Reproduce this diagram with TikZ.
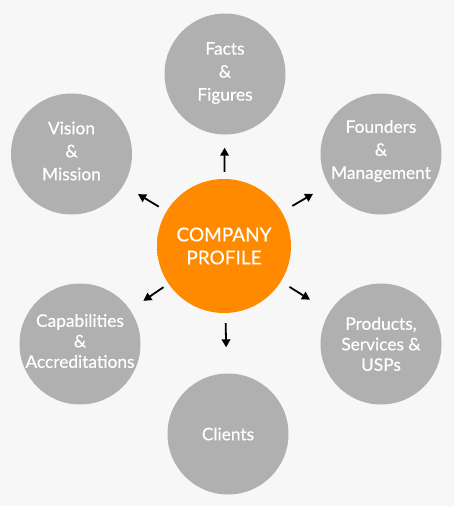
\documentclass[tikz,border=0pt]{standalone}
\usepackage{fontspec}
\setmainfont{Lato}[FakeBold=0.45]
\usetikzlibrary{arrows.meta}
\definecolor{bg}{HTML}{F7F7F7}
\definecolor{petal}{HTML}{B0B0B0}
\definecolor{orng}{HTML}{FF8A00}
\definecolor{orngdark}{HTML}{E86E00}
\pgfdeclareradialshading{hubshade}{\pgfpoint{0bp}{0bp}}{color(0bp)=(orng); color(42bp)=(orng); color(50bp)=(orngdark)}
\begin{document}
\begin{tikzpicture}[x=1pt,y=-1pt,
  petal/.style={circle,fill=petal,minimum size=121pt,inner sep=0pt},
  ptext/.style={inner sep=0pt,text=white,
    font=\fontsize{17.3}{23}\selectfont,align=center},
  ptight/.style={ptext,font=\fontsize{17.3}{20.5}\selectfont},
  hub/.style={circle,minimum size=134pt,inner sep=0pt,text=white,
    font=\fontsize{19}{23}\selectfont,align=center,
    shading=hubshade},
  arr/.style={-{Triangle[length=8pt,width=8.5pt]},line width=1.8pt,black}]
\fill[bg] (0,0) rectangle (454,506);
\useasboundingbox (0,0) rectangle (454,506);
\node[hub] (c) at (224,246) {COMPANY\\PROFILE};
\node[petal] (f) at (225,74) {};
\node[petal] (v) at (71.5,154) {};
\node[petal] (m) at (381,154) {};
\node[petal] (a) at (80,344) {};
\node[petal] (p) at (381,344) {};
\node[petal] (cl) at (228,434) {};
\node[ptext] (ft) at ([yshift=1pt]f.center) {Facts\\\&\\Figures};
\node[ptext] (vt) at ([yshift=3pt]v.center) {Vision\\\&\\Mission};
\node[ptext] (mt) at ([yshift=3pt]m.center) {Founders\\\&\\Management};
\node[ptight] (at) at ([yshift=3pt]a.center) {Capabilities\\\&\\Accreditations};
\node[ptight] (pt) at ([yshift=0pt]p.center) {Products,\\Services \&\\USPs};
\node[ptext] (clt) at (cl.center) {Clients};
\draw[arr,shorten <=7pt,shorten >=13pt] (c) -- (f);
\draw[arr,shorten <=9pt,shorten >=17pt] (c) -- (v);
\draw[arr,shorten <=12pt,shorten >=18pt] (c) -- (m);
\draw[arr,shorten <=6pt,shorten >=16pt] (c) -- (a);
\draw[arr,shorten <=10pt,shorten >=23pt] (c) -- (p);
\draw[arr,shorten <=10pt,shorten >=26pt] (c) -- (cl);
\end{tikzpicture}
\end{document}
